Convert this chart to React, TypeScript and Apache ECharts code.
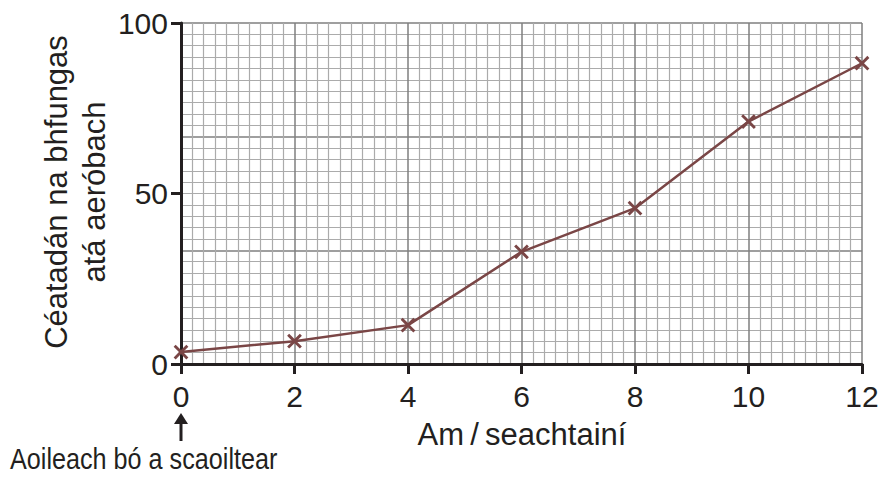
import React, { useEffect, useRef } from "react";
import * as echarts from "echarts";

const weeks = [0, 2, 4, 6, 8, 10, 12];
const aerobicPercent = [3.5, 6.7, 11.4, 32.9, 45.7, 71.1, 88.2];
const xTicks = [0, 2, 4, 6, 8, 10, 12];
const yTicks = [0, 50, 100];

const TEXT = "#231f20";
const LINE = "#7a4646";

export default function App() {
  const ref = useRef<HTMLDivElement>(null);
  useEffect(() => {
    if (!ref.current) return;
    const chart = echarts.init(ref.current, undefined, { renderer: "svg" });
    const font = "'Liberation Sans', Arial, sans-serif";
    chart.setOption({
      animation: false,
      backgroundColor: "#ffffff",
      grid: { left: 181, right: 23, top: 23, bottom: 114, containLabel: false },
      xAxis: {
        type: "value",
        min: xTicks[0],
        max: xTicks[xTicks.length - 1],
        interval: 2,
        axisLine: { show: true, onZero: false, lineStyle: { color: TEXT, width: 3 } },
        axisTick: { show: true, length: 10, lineStyle: { color: TEXT, width: 3 } },
        axisLabel: { color: TEXT, fontSize: 30, fontFamily: font, margin: 17 },
        splitLine: { show: true, lineStyle: { color: "#7f7f7f", width: 1.5 } },
        minorTick: { show: false, splitNumber: 10 },
        minorSplitLine: { show: true, lineStyle: { color: "#ababab", width: 1.2 } },
        z: 3,
      },
      yAxis: [
        {
          type: "value",
          min: yTicks[0],
          max: yTicks[yTicks.length - 1],
          interval: 50,
          axisLine: { show: true, onZero: false, lineStyle: { color: TEXT, width: 3 } },
          axisTick: { show: true, length: 10, lineStyle: { color: TEXT, width: 3 } },
          axisLabel: { color: TEXT, fontSize: 30, fontFamily: font, margin: 13 },
          splitLine: { show: false },
          z: 3,
        },
        {
          type: "value",
          min: 0,
          max: 30,
          interval: 10,
          position: "right",
          axisLine: { show: false },
          axisTick: { show: false },
          axisLabel: { show: false },
          splitLine: { show: true, lineStyle: { color: "#7f7f7f", width: 1.5 } },
          minorTick: { show: false, splitNumber: 10 },
          minorSplitLine: { show: true, lineStyle: { color: "#ababab", width: 1.2 } },
        },
      ],
      series: [
        {
          type: "line",
          yAxisIndex: 0,
          data: weeks.map((w, i) => [w, aerobicPercent[i]]),
          lineStyle: { color: LINE, width: 2.5 },
          symbol: "path://M4.2,0H5.8V4.2H10V5.8H5.8V10H4.2V5.8H0V4.2H4.2Z",
          symbolRotate: 45,
          symbolSize: 18,
          itemStyle: { color: LINE },
          z: 5,
        },
      ],
      graphic: [
        {
          type: "text",
          x: 75,
          y: 192,
          rotation: Math.PI / 2,
          style: {
            text: "Céatadán na bhfungas\natá aeróbach",
            fill: TEXT,
            font: `31px ${font}`,
            align: "center",
            verticalAlign: "middle",
            lineHeight: 38,
          },
        },
        {
          type: "text",
          x: 522,
          y: 434,
          style: {
            text: "Am\u2009/\u2009seachtainí",
            fill: TEXT,
            font: `31px ${font}`,
            align: "center",
            verticalAlign: "middle",
          },
        },
        {
          type: "text",
          x: 10,
          y: 459,
          scaleX: 0.84,
          style: {
            text: "Aoileach bó a scaoiltear",
            fill: TEXT,
            font: `30px ${font}`,
            align: "left",
            verticalAlign: "middle",
          },
        },
        {
          type: "line",
          shape: { x1: 181, y1: 422, x2: 181, y2: 441 },
          style: { stroke: TEXT, lineWidth: 3 },
        },
        {
          type: "polygon",
          shape: { points: [[181, 413], [174, 424], [188, 424]] },
          style: { fill: TEXT },
        },
      ],
    });
    return () => chart.dispose();
  }, []);
  return (
    <div
      ref={ref}
      style={{ position: "fixed", left: 0, top: 0, width: 885, height: 478 }}
    />
  );
}
